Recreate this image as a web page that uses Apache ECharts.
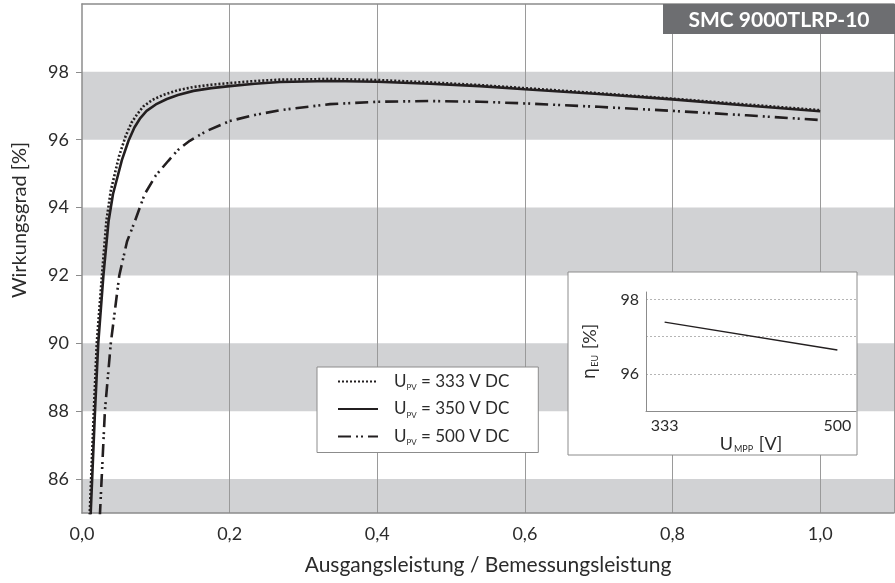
<!DOCTYPE html>
<html><head><meta charset="utf-8">
<script src="https://cdn.jsdelivr.net/npm/echarts@6/dist/echarts.min.js"></script>
<style>html,body{margin:0;padding:0;background:#fff}#c{width:895px;height:583px}</style>
</head><body><div id="c"></div>
<script>
// ---- data ----
const load333 = [0.009,0.0105,0.016,0.020,0.027,0.033,0.039,0.050,0.059,0.067,0.075,0.083,0.095,0.11,0.13,0.15,0.175,0.2,0.234,0.268,0.336,0.4,0.471,0.539,0.6,0.7,0.8,0.9,1.0];
const eff333  = [84.0,85.0,88.0,90.0,92.0,93.6,94.5,95.5,96.1,96.5,96.76,96.98,97.17,97.32,97.46,97.55,97.62,97.67,97.73,97.77,97.79,97.76,97.69,97.61,97.52,97.37,97.21,97.04,96.87];
const load350 = [0.010,0.0118,0.0176,0.022,0.029,0.036,0.042,0.054,0.063,0.071,0.079,0.0875,0.1,0.115,0.13,0.151,0.175,0.2,0.234,0.268,0.336,0.4,0.471,0.539,0.6,0.7,0.8,0.9,1.0];
const eff350  = [84.0,85.0,88.0,90.0,92.0,93.6,94.4,95.4,95.97,96.36,96.64,96.85,97.04,97.2,97.32,97.44,97.52,97.58,97.65,97.7,97.73,97.71,97.65,97.58,97.49,97.35,97.19,97.01,96.84];
const load500 = [0.022,0.0244,0.031,0.039,0.0505,0.061,0.072,0.085,0.1,0.117,0.13,0.146,0.169,0.2,0.234,0.268,0.336,0.4,0.471,0.539,0.6,0.7,0.8,0.9,1.0];
const eff500  = [84.0,85.0,88.0,90.0,92.0,93.0,93.62,94.4,94.95,95.38,95.7,95.97,96.26,96.55,96.73,96.87,97.05,97.12,97.14,97.12,97.07,96.97,96.85,96.72,96.58];
const seriesVolts = ['333','350','500'];
const xTicks = [0,0.2,0.4,0.6,0.8,1.0];
const yTicks = [86,88,90,92,94,96,98];
const bands = [[85,86],[88,90],[92,94],[96,98]];
const insetVolt = [333,500];
const insetEff = [97.39,96.64];
const insetXTicks = [333,500];
const insetYTicks = [96,98];
const titleText = 'SMC 9000TLRP-10';

// ---- chart ----
const FONT = 'Lato';
const TXT = '#2b2b2b';
const AX = '#8c8c8c';
const pairs = (xs, ys) => xs.map((x, i) => [x, ys[i]]);
const chart = echarts.init(document.getElementById('c'), null, {renderer: 'canvas'});

const lineBase = {type: 'line', xAxisIndex: 0, yAxisIndex: 0, symbol: 'none', smooth: false, z: 3, clip: true};

const option = {
  animation: false,
  backgroundColor: '#fff',
  textStyle: {fontFamily: FONT},
  grid: [
    {left: 82, top: 4, right: 1, bottom: 70},
    {left: 646, top: 292, right: 39, bottom: 172}
  ],
  xAxis: [
    {gridIndex: 0, type: 'value', min: 0, max: 1.1, interval: 0.2, z: 2,
     name: 'Ausgangsleistung / Bemessungsleistung', nameLocation: 'middle', nameGap: 42,
     nameTextStyle: {fontSize: 21, color: TXT, fontFamily: FONT},
     axisLine: {lineStyle: {color: AX, width: 1.5}},
     axisTick: {show: false},
     axisLabel: {customValues: xTicks, margin: 12, fontSize: 18, color: TXT, fontFamily: FONT,
       formatter: v => v.toFixed(1).replace('.', ',')},
     splitLine: {show: true, showMinLine: false, lineStyle: {color: '#9a9a9a', width: 1}}},
    {gridIndex: 0, type: 'value', min: 0, max: 1.1, position: 'top', z: 2,
     axisLine: {show: true, lineStyle: {color: AX, width: 1.5}},
     axisTick: {show: false}, axisLabel: {show: false}, splitLine: {show: false}},
    {gridIndex: 1, type: 'value', min: 315, max: 518, z: 7,
     name: '{u|U}{s|MPP}{u| [V]}', nameLocation: 'middle', nameGap: 22,
     nameTextStyle: {rich: {
       u: {fontSize: 18, color: TXT, fontFamily: FONT, lineHeight: 20},
       s: {fontSize: 9, color: TXT, fontFamily: FONT, verticalAlign: 'bottom', lineHeight: 20, padding: [0, 1, 0, 1]}}},
     axisLine: {lineStyle: {color: AX, width: 1}},
     axisTick: {show: false},
     axisLabel: {customValues: insetXTicks, margin: 7, fontSize: 16, color: TXT, fontFamily: FONT},
     splitLine: {show: false}}
  ],
  yAxis: [
    {gridIndex: 0, type: 'value', min: 85, max: 100, z: 2,
     axisLine: {show: true, lineStyle: {color: AX, width: 1.5}},
     axisTick: {show: true, customValues: yTicks, length: 6, lineStyle: {color: AX}},
     axisLabel: {customValues: yTicks, margin: 13, fontSize: 18, color: TXT, fontFamily: FONT},
     splitLine: {show: false}},
    {gridIndex: 1, type: 'value', min: 95, max: 98.2, interval: 1, z: 7,
     name: '{g|η}{s|EU}{u| [%]}', nameLocation: 'middle', nameGap: 46, nameRotate: 90,
     nameTextStyle: {rich: {
       g: {fontSize: 18, color: TXT, fontFamily: 'DejaVu Sans', lineHeight: 20},
       u: {fontSize: 18, color: TXT, fontFamily: FONT, lineHeight: 20},
       s: {fontSize: 9, color: TXT, fontFamily: FONT, verticalAlign: 'bottom', lineHeight: 20, padding: [0, 1, 0, 1]}}},
     axisLine: {show: true, lineStyle: {color: AX, width: 1}},
     axisTick: {show: false},
     axisLabel: {customValues: insetYTicks, margin: 7, fontSize: 16, color: TXT, fontFamily: FONT},
     splitLine: {show: true, showMinLine: false, showMaxLine: false, lineStyle: {color: '#b5b5b5', width: 1, type: [2, 2]}}}
  ],
  legend: {
    orient: 'vertical', left: 317, top: 367, z: 4,
    padding: [6, 29, 6, 20], itemGap: 9, itemWidth: 40, itemHeight: 14,
    backgroundColor: '#fff', borderColor: AX, borderWidth: 1, borderRadius: 0,
    itemStyle: {color: 'rgba(0,0,0,0)', borderWidth: 0, opacity: 0},
    data: seriesVolts,
    formatter: n => '{u|U}{s|PV}{t| = ' + n + ' V DC}',
    textStyle: {rich: {
      u: {fontSize: 17, color: TXT, fontFamily: FONT, lineHeight: 20, padding: [0, 0, 0, 11]},
      s: {fontSize: 8, color: TXT, fontFamily: FONT, verticalAlign: 'bottom', lineHeight: 20},
      t: {fontSize: 17, color: TXT, fontFamily: FONT, lineHeight: 20}}}
  },
  graphic: [
    {type: 'rect', z: 5, shape: {x: 568, y: 272, width: 289, height: 183},
     style: {fill: '#fff', stroke: AX, lineWidth: 1}},
    {type: 'rect', z: 10, shape: {x: 663, y: 4, width: 232, height: 30},
     style: {fill: '#6d6e71'}},
    {type: 'text', z: 11, x: 779, y: 20,
     style: {text: titleText, fill: '#fff', font: 'bold 21px ' + FONT, align: 'center', verticalAlign: 'middle'}},
    {type: 'text', z: 11, x: 20, y: 220, rotation: Math.PI / 2,
     style: {text: 'Wirkungsgrad [%]', fill: TXT, font: '20px ' + FONT, align: 'center', verticalAlign: 'middle'}}
  ],
  series: [
    {type: 'line', name: 'bands', xAxisIndex: 0, yAxisIndex: 0, data: [], z: 1, silent: true,
     markArea: {silent: true, itemStyle: {color: '#d1d2d4'},
       data: bands.map(b => [{yAxis: b[0]}, {yAxis: b[1]}])}},
    Object.assign({}, lineBase, {name: seriesVolts[0], data: pairs(load333, eff333),
      lineStyle: {color: '#231f20', width: 2.6, type: [2, 2]}, itemStyle: {color: '#231f20'}}),
    Object.assign({}, lineBase, {name: seriesVolts[1], data: pairs(load350, eff350),
      lineStyle: {color: '#231f20', width: 2.6, type: 'solid'}, itemStyle: {color: '#231f20'}}),
    Object.assign({}, lineBase, {name: seriesVolts[2], data: pairs(load500, eff500),
      lineStyle: {color: '#231f20', width: 2.6, type: [13, 5, 2, 3, 2, 5]}, itemStyle: {color: '#231f20'}}),
    {type: 'line', name: 'inset', xAxisIndex: 2, yAxisIndex: 1, symbol: 'none', z: 8,
     data: pairs(insetVolt, insetEff), lineStyle: {color: '#231f20', width: 1.5}}
  ]
};
chart.setOption(option);
</script>
</body></html>
